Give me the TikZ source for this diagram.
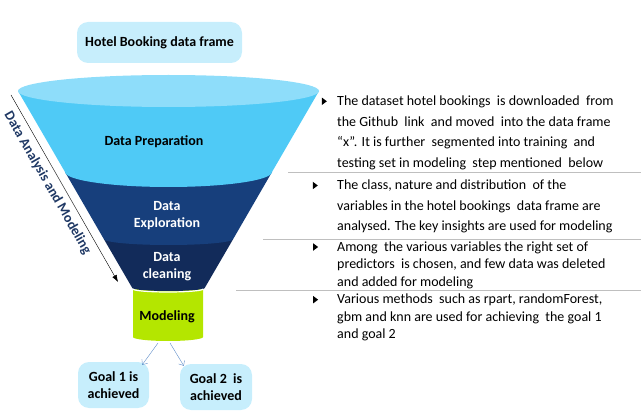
\documentclass[tikz,border=0pt]{standalone}
\usepackage{fontspec}
\setmainfont{Carlito}
\usepackage{xcolor}
\usetikzlibrary{arrows.meta,shapes.geometric}

\definecolor{boxblue}{HTML}{C7EEFC}
\definecolor{topblue}{HTML}{8EDDFA}
\definecolor{prepblue}{HTML}{4FCAF6}
\definecolor{explblue}{HTML}{173F7C}
\definecolor{cleanblue}{HTML}{122B5A}
\definecolor{modgreen}{HTML}{B4E600}
\definecolor{arrowblue}{HTML}{5E8CC8}
\definecolor{labelnavy}{HTML}{1F3864}
\definecolor{sepgray}{HTML}{BFBFBF}

\tikzset{
  roundbox/.style={rounded corners=11pt, fill=boxblue, align=center, inner sep=0pt, font=\fontsize{14}{17}\selectfont\bfseries},
  stagetext/.style={align=center, inner sep=0pt, font=\fontsize{14}{17}\selectfont\bfseries},
  notetext/.style={align=left, anchor=north west, inner sep=0pt},
  bulletmark/.style={isosceles triangle, isosceles triangle stretches, fill=black, inner sep=0pt, minimum width=7.5pt, minimum height=5pt},
  sepline/.style={draw=sepgray, line width=0.9pt}
}

\begin{document}
\begin{tikzpicture}[x=1pt, y=-1pt, font=\fontsize{14}{17}\selectfont]
  \useasboundingbox (0,0) rectangle (643,417);

  % --- input box ---
  \node[roundbox, minimum width=165, minimum height=41] (hotel) at (159.5,42.5) {Hotel Booking data frame};

  % --- funnel: modeling cylinder first, then the cone from bottom to top ---
  \fill[modgreen] (133,286) -- (133,337) arc[start angle=180, end angle=0, x radius=35, y radius=4] -- (203,286) -- cycle;
  \fill[cleanblue] (103.8,239) -- (132.3,288) arc[start angle=180, end angle=0, x radius=36.2, y radius=3] -- (233.2,239) -- cycle;
  \draw[white, line width=1.2pt] (133,289) arc[start angle=180, end angle=0, x radius=35, y radius=3];
  \fill[explblue] (65,172) -- (103.8,239) arc[start angle=180, end angle=0, x radius=64.7, y radius=6] -- (272,172) -- cycle;
  \fill[prepblue] (18,91) -- (65,172) arc[start angle=180, end angle=0, x radius=103.5, y radius=15] -- (319,91) -- cycle;
  \fill[topblue] (168.5,91) ellipse[x radius=150.5, y radius=16];

  \node[stagetext] (prep) at (154,142) {Data Preparation};
  \node[stagetext, text=white] (explore) at (167,216) {Data\\Exploration};
  \node[stagetext, text=white] (clean) at (167,267) {Data\\cleaning};
  \node[stagetext] (model) at (167,317) {Modeling};

  % --- goals ---
  \node[roundbox, minimum width=71, minimum height=46] (goal1) at (113.5,385) {Goal 1 is\\achieved};
  \node[roundbox, minimum width=72, minimum height=46] (goal2) at (216,387) {Goal 2~ is\\achieved};
  \coordinate (mout1) at (158,343);
  \coordinate (mout2) at (170,343);
  \draw[arrowblue, -{Straight Barb[length=4pt, width=7pt]}] (mout1) -- ([xshift=-7pt, yshift=-3pt]goal1.north east);
  \draw[arrowblue, -{Straight Barb[length=4pt, width=7pt]}] (mout2) -- ([xshift=4pt, yshift=-2pt]goal2.north west);

  % --- side arrow ---
  \coordinate (admtop) at (11,95);
  \coordinate (admbot) at (118,282);
  \draw[-{Latex[length=7pt, width=5pt]}] (admtop) -- (admbot);
  \node[rotate=-60.2, text=labelnavy, inner sep=0pt, font=\fontsize{14}{17}\selectfont\bfseries] (adm) at (47.5,183) {Data Analysis and Modeling};

  % --- notes on the right ---
  \coordinate (sep1) at (288,172);
  \coordinate (sep2) at (263,239);
  \coordinate (sep3) at (236,290);
  \draw[sepline] (sep1) -- (641,172);
  \draw[sepline] (sep2) -- (641,239);
  \draw[sepline] (sep3) -- (641,290);

  \node[bulletmark] (b1) at (323.7,101.3) {};
  \node[bulletmark] (b2) at (314.7,185.5) {};
  \node[bulletmark] (b3) at (315,247) {};
  \node[bulletmark] (b4) at (315,299.7) {};

  \node[notetext, font=\fontsize{14}{20.5}\selectfont] (note1) at (337,96) {The dataset hotel bookings~ is downloaded~ from\\the Github~ link~ and moved~ into the data frame\\“x”. It is further~ segmented into training~ and\\testing set in modeling~ step mentioned~ below};
  \node[notetext, font=\fontsize{14}{20.5}\selectfont] (note2) at (337,180) {The class, nature and distribution~ of the\\variables in the hotel bookings~ data frame are\\analysed. The key insights are used for modeling};
  \node[notetext, font=\fontsize{14}{17.5}\selectfont] (note3) at (337,241.5) {Among~ the various variables the right set of\\predictors~ is chosen, and few data was deleted\\and added for modeling};
  \node[notetext, font=\fontsize{14}{17.5}\selectfont] (note4) at (337,294) {Various methods~ such as rpart, randomForest,\\gbm and knn are used for achieving~ the goal 1\\and goal 2};
\end{tikzpicture}
\end{document}
